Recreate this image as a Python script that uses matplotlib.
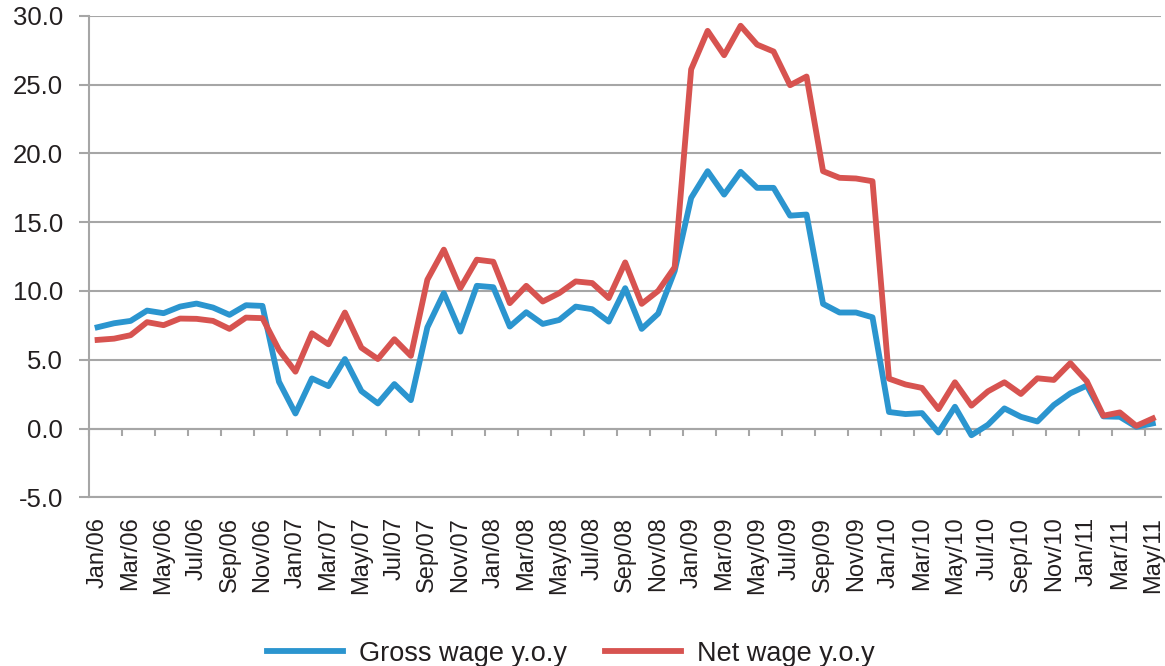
import numpy as np
import matplotlib.pyplot as plt

# months Jan/06 .. May/11
month_names = ['Jan', 'Feb', 'Mar', 'Apr', 'May', 'Jun',
               'Jul', 'Aug', 'Sep', 'Oct', 'Nov', 'Dec']
years = ['06', '07', '08', '09', '10', '11']
labels = [m + '/' + y for y in years for m in month_names][:65]

gross = [7.36, 7.65, 7.82, 8.57, 8.38, 8.86, 9.08, 8.79, 8.26, 8.96, 8.91, 3.40,
         1.09, 3.64, 3.08, 5.05, 2.72, 1.82, 3.23, 2.06, 7.35, 9.84, 7.04, 10.37,
         10.27, 7.41, 8.45, 7.60, 7.89, 8.86, 8.67, 7.77, 10.20, 7.24, 8.35, 11.45,
         16.76, 18.70, 17.00, 18.66, 17.49, 17.49, 15.47, 15.55, 9.06, 8.43, 8.43, 8.08,
         1.20, 1.05, 1.12, -0.29, 1.58, -0.49, 0.27, 1.46, 0.85, 0.51, 1.71, 2.56,
         3.12, 0.88, 0.85, 0.12, 0.37]
net = [6.44, 6.53, 6.78, 7.73, 7.51, 7.99, 7.97, 7.82, 7.24, 8.06, 8.02, 5.71,
       4.13, 6.92, 6.12, 8.43, 5.87, 5.05, 6.49, 5.28, 10.81, 13.00, 10.20, 12.27,
       12.12, 9.11, 10.37, 9.23, 9.84, 10.69, 10.57, 9.48, 12.07, 9.06, 10.00, 11.72,
       26.10, 28.90, 27.13, 29.27, 27.90, 27.40, 24.95, 25.58, 18.70, 18.22, 18.17, 17.97,
       3.62, 3.20, 2.95, 1.41, 3.36, 1.66, 2.70, 3.36, 2.51, 3.65, 3.53, 4.75,
       3.43, 0.93, 1.17, 0.19, 0.73]

plt.rcParams['font.family'] = ['Liberation Sans', 'DejaVu Sans']
grey = '#a6a6a6'
txt = '#231f20'

fig = plt.figure(figsize=(11.65, 6.66), dpi=100)
ax = fig.add_axes([0.0767, 0.2533, 0.9199, 0.7231])

x = np.arange(len(labels))
ax.plot(x, gross, color='#2b95cf', lw=4.2, solid_joinstyle='round', label='Gross wage y.o.y', zorder=3)
ax.plot(x, net, color='#d75350', lw=4.2, solid_joinstyle='round', label='Net wage y.o.y', zorder=4)

ax.set_xlim(-0.5, len(labels) - 0.5)
ax.set_ylim(-5, 30)
ax.set_yticks(np.arange(-5, 31, 5))
ax.set_yticklabels(['%.1f' % v for v in np.arange(-5, 31, 5)], fontsize=18.5, color=txt)
ax.yaxis.grid(True, color=grey, lw=1.5)
ax.set_axisbelow(True)
ax.tick_params(axis='y', direction='out', length=7, width=1.5, color=grey, pad=12)

ax.set_xticks(x[::2])
ax.set_xticklabels(labels[::2], rotation=90, fontsize=17, color=txt, va='top', ha='center')
ax.tick_params(axis='x', length=0, pad=14)

for s in ['top', 'right']:
    ax.spines[s].set_visible(False)
for s in ['left', 'bottom']:
    ax.spines[s].set_color(grey)
    ax.spines[s].set_linewidth(1.5)

# category axis crossing at zero, with tick marks between categories
sec = ax.secondary_xaxis(0, transform=ax.transData)
sec.set_xticks(np.arange(-0.5, len(labels), 2))
sec.tick_params(axis='x', direction='out', length=5, width=1.5, color=grey, labelbottom=False)
sec.spines['bottom'].set_color(grey)
sec.spines['bottom'].set_linewidth(1.5)

fig.legend(loc='lower center', bbox_to_anchor=(0.49, -0.038), ncol=2, frameon=False,
           fontsize=19.5, handlelength=2.8, handletextpad=0.6, columnspacing=1.4,
           labelcolor=txt)

fig.savefig('out.png', dpi=100)
